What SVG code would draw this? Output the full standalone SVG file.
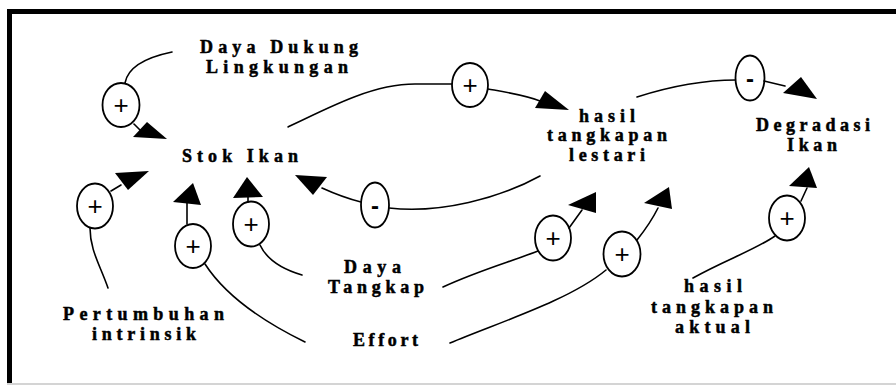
<svg xmlns="http://www.w3.org/2000/svg" width="896" height="385" viewBox="0 0 896 385">
<style>
.lbl{font-family:"Liberation Serif","Times New Roman","DejaVu Serif",serif;font-weight:700;font-size:18px;fill:#000;stroke:#000;stroke-width:0.5}
.ln{fill:none;stroke:#000;stroke-width:1.6;stroke-linecap:round}
.sg{fill:#fff;stroke:#000;stroke-width:1.8}
.hd{fill:#000;stroke:none}
.pl{font-family:"Liberation Sans",Arial,sans-serif;font-size:26px;fill:#000;text-anchor:middle}
.mi{font-family:"Liberation Sans",Arial,sans-serif;font-weight:700;font-size:24px;fill:#000;text-anchor:middle}
</style>
<rect x="0" y="0" width="896" height="385" fill="#fff"/>
<g id="frame">
<rect x="7" y="9" width="889" height="5" fill="#000"/>
<rect x="7" y="9" width="5" height="374" fill="#000"/>
<rect x="7" y="383" width="889" height="2" fill="#d4d4d4"/>
</g>
<g id="daya-dukung"><text class="lbl" x="200" y="53" textLength="158" lengthAdjust="spacing">Daya Dukung</text><text class="lbl" x="206" y="73" textLength="142" lengthAdjust="spacing">Lingkungan</text></g>
<g id="stok-ikan"><text class="lbl" x="182" y="162" textLength="116" lengthAdjust="spacing">Stok Ikan</text></g>
<g id="hasil-lestari"><text class="lbl" x="579" y="122" textLength="56" lengthAdjust="spacing">hasil</text><text class="lbl" x="547" y="141" textLength="120" lengthAdjust="spacing">tangkapan</text><text class="lbl" x="569" y="161" textLength="76" lengthAdjust="spacing">lestari</text></g>
<g id="degradasi"><text class="lbl" x="756" y="131" textLength="114" lengthAdjust="spacing">Degradasi</text><text class="lbl" x="787" y="151" textLength="50" lengthAdjust="spacing">Ikan</text></g>
<g id="daya-tangkap"><text class="lbl" x="344" y="273" textLength="57" lengthAdjust="spacing">Daya</text><text class="lbl" x="328" y="293" textLength="96" lengthAdjust="spacing">Tangkap</text></g>
<g id="effort"><text class="lbl" x="353" y="346" textLength="65" lengthAdjust="spacing">Effort</text></g>
<g id="pertumbuhan"><text class="lbl" x="63" y="320" textLength="161" lengthAdjust="spacing">Pertumbuhan</text><text class="lbl" x="92" y="340" textLength="104" lengthAdjust="spacing">intrinsik</text></g>
<g id="hasil-aktual"><text class="lbl" x="684" y="292" textLength="58" lengthAdjust="spacing">hasil</text><text class="lbl" x="651" y="313" textLength="122" lengthAdjust="spacing">tangkapan</text><text class="lbl" x="675" y="333" textLength="75" lengthAdjust="spacing">aktual</text></g>
<g id="connectors">
<g id="l-dukung-stok"><path class="ln" d="M172,52 C148,57 128,66 125,83"/><ellipse class="sg" cx="121" cy="105" rx="18.5" ry="22"/><text class="pl" x="121" y="114">+</text><path class="ln" d="M134,124 L141,131"/><polygon class="hd" points="133,137 147,122 167,139"/></g>
<g id="l-stok-lestari"><path class="ln" d="M288,127 C335,104 375,84 415,84 L452,84"/><ellipse class="sg" cx="470" cy="85" rx="18" ry="22"/><text class="pl" x="470" y="94">+</text><path class="ln" d="M488,89 C505,92 525,95 540,101"/><polygon class="hd" points="535,108 545,91 569,110"/></g>
<g id="l-lestari-stok"><path class="ln" d="M540,176 C500,198 440,214 389,208"/><ellipse class="sg" cx="375" cy="205" rx="14" ry="22.5"/><text class="mi" x="375" y="214">-</text><path class="ln" d="M361,202 C345,198 333,193 322,188"/><polygon class="hd" points="295,175 327,177 313,195"/></g>
<g id="l-lestari-degradasi"><path class="ln" d="M637,97 C665,88 700,80 736,80"/><ellipse class="sg" cx="750" cy="78" rx="14.5" ry="22.5"/><text class="mi" x="750" y="87">-</text><path class="ln" d="M764,81 L785,86"/><polygon class="hd" points="783,93 801,77 817,99"/></g>
<g id="l-pertumbuhan-stok"><path class="ln" d="M108,288 C100,265 90,250 90,228"/><ellipse class="sg" cx="95" cy="206" rx="18" ry="22.5"/><text class="pl" x="95" y="215">+</text><path class="ln" d="M111,191 L121,185"/><polygon class="hd" points="115,173 149,171 128,190"/></g>
<g id="l-effort-stok"><path class="ln" d="M305,342 C260,320 225,295 205,264"/><ellipse class="sg" cx="193" cy="246" rx="18" ry="22"/><text class="pl" x="193" y="255">+</text><path class="ln" d="M187,224 L187,203"/><polygon class="hd" points="173,202 201,205 193,183"/></g>
<g id="l-tangkap-stok"><path class="ln" d="M302,275 C285,270 268,262 260,245"/><ellipse class="sg" cx="251" cy="224" rx="18" ry="22.5"/><text class="pl" x="251" y="233">+</text><path class="ln" d="M248,202 L248,197"/><polygon class="hd" points="233,198 263,197 247,177"/></g>
<g id="l-tangkap-lestari"><path class="ln" d="M443,287 C480,270 510,262 538,251"/><ellipse class="sg" cx="553" cy="238" rx="18" ry="22.5"/><text class="pl" x="553" y="247">+</text><path class="ln" d="M569,228 L582,210"/><polygon class="hd" points="568,205 596,192 596,213"/></g>
<g id="l-effort-lestari"><path class="ln" d="M450,343 C500,322 570,300 606,270"/><ellipse class="sg" cx="622" cy="254" rx="18.5" ry="22.5"/><text class="pl" x="622" y="263">+</text><path class="ln" d="M637,240 C645,230 652,220 658,208"/><polygon class="hd" points="644,203 669,187 672,209"/></g>
<g id="l-aktual-degradasi"><path class="ln" d="M693,278 C725,260 755,250 775,236"/><ellipse class="sg" cx="787" cy="218" rx="18" ry="22.5"/><text class="pl" x="787" y="227">+</text><path class="ln" d="M801,201 L807,188"/><polygon class="hd" points="789,186 809,167 817,188"/></g>
</g>
</svg>
